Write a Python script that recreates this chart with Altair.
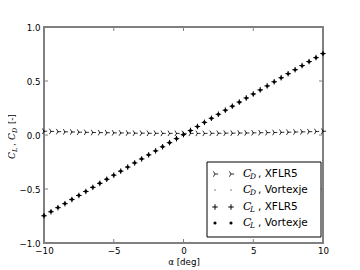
import altair as alt
import pandas as pd

# ---------------- data ----------------
alpha = [-10.0, -9.5, -9.0, -8.5, -8.0, -7.5, -7.0, -6.5, -6.0, -5.5,
         -5.0, -4.5, -4.0, -3.5, -3.0, -2.5, -2.0, -1.5, -1.0, -0.5,
         0.0, 0.5, 1.0, 1.5, 2.0, 2.5, 3.0, 3.5, 4.0, 4.5,
         5.0, 5.5, 6.0, 6.5, 7.0, 7.5, 8.0, 8.5, 9.0, 9.5, 10.0]

cl_xflr5 = [-0.748, -0.711, -0.673, -0.636, -0.598, -0.560, -0.523, -0.485, -0.448, -0.410,
            -0.372, -0.335, -0.297, -0.259, -0.222, -0.184, -0.147, -0.109, -0.071, -0.034,
            0.004, 0.042, 0.079, 0.117, 0.155, 0.192, 0.230, 0.267, 0.305, 0.343,
            0.380, 0.418, 0.455, 0.493, 0.530, 0.568, 0.605, 0.643, 0.680, 0.717, 0.755]

cl_vortexje = [-0.746, -0.709, -0.671, -0.634, -0.596, -0.559, -0.521, -0.484, -0.446, -0.409,
               -0.371, -0.334, -0.296, -0.258, -0.221, -0.183, -0.146, -0.108, -0.071, -0.033,
               0.004, 0.042, 0.079, 0.117, 0.154, 0.192, 0.229, 0.267, 0.304, 0.342,
               0.379, 0.417, 0.454, 0.492, 0.529, 0.567, 0.604, 0.641, 0.679, 0.716, 0.753]

cd_xflr5 = [0.035, 0.033, 0.031, 0.029, 0.028, 0.026, 0.025, 0.023, 0.022, 0.021,
            0.020, 0.019, 0.018, 0.017, 0.017, 0.016, 0.016, 0.015, 0.015, 0.015,
            0.015, 0.015, 0.015, 0.015, 0.016, 0.016, 0.017, 0.017, 0.018, 0.019,
            0.020, 0.021, 0.022, 0.023, 0.025, 0.026, 0.028, 0.029, 0.031, 0.033, 0.035]

cd_vortexje = [0.034, 0.032, 0.030, 0.029, 0.027, 0.026, 0.024, 0.023, 0.022, 0.021,
               0.020, 0.019, 0.018, 0.017, 0.016, 0.016, 0.015, 0.015, 0.015, 0.014,
               0.014, 0.014, 0.015, 0.015, 0.015, 0.016, 0.016, 0.017, 0.018, 0.019,
               0.020, 0.021, 0.022, 0.023, 0.024, 0.026, 0.027, 0.029, 0.030, 0.032, 0.034]

x_ticks = [-10, -5, 0, 5, 10]
y_ticks = [-1.0, -0.5, 0.0, 0.5, 1.0]

legend_sub = ["D", "D", "L", "L"]
legend_src = [", XFLR5", ", Vortexje", ", XFLR5", ", Vortexje"]

# ---------------- styles ----------------
W, H = 279, 216
FRAME = "#808080"
TRI_RIGHT = "M0,0L1,0M0,0L-0.5,-0.866M0,0L-0.5,0.866"
PLUS = "M-1,0L1,0M0,-1L0,1"
SANS = "DejaVu Sans"
MATH = "DejaVu Serif"

xs = alt.Scale(domain=[-10, 10], nice=False, zero=False)
ys = alt.Scale(domain=[-1, 1], nice=False, zero=False)

x_axis = alt.Axis(values=x_ticks, title="α [deg]", domain=False, ticks=False, grid=False,
                  labelExpr="replace(format(datum.value, 'd'), '-', '−')",
                  labelPadding=3, titlePadding=3, labelFlush=False)
y_axis = alt.Axis(values=y_ticks, title=None, domain=False, ticks=False, grid=False,
                  labelExpr="replace(format(datum.value, '.1f'), '-', '−')",
                  labelPadding=4, labelFlush=False)

X = lambda: alt.X("alpha:Q", scale=xs, axis=x_axis)
Y = lambda: alt.Y("v:Q", scale=ys, axis=y_axis)

def series_df(vals):
    return pd.DataFrame({"alpha": alpha, "v": vals})

def enc(ch):
    return ch.encode(x=X(), y=Y())

l_cd_x = enc(alt.Chart(series_df(cd_xflr5)).mark_point(
    shape=TRI_RIGHT, filled=False, size=40, strokeWidth=0.8, color="black", opacity=1))
l_cd_v = enc(alt.Chart(series_df(cd_vortexje)).mark_square(size=1, color="black", opacity=1))
l_cl_x = enc(alt.Chart(series_df(cl_xflr5)).mark_point(
    shape=PLUS, filled=False, size=30, strokeWidth=1, color="black", opacity=1))
l_cl_v = enc(alt.Chart(series_df(cl_vortexje)).mark_circle(size=10, color="black", opacity=1))

# inward ticks on all four sides (same fields / axes as the data layers)
xt = pd.DataFrame({"alpha": x_ticks})
yt = pd.DataFrame({"v": y_ticks})
tick_layers = [
    alt.Chart(xt).mark_rule(color=FRAME, strokeWidth=1).encode(
        x=X(), y=alt.value(H), y2=alt.value(H - 4)),
    alt.Chart(xt).mark_rule(color=FRAME, strokeWidth=1).encode(
        x=X(), y=alt.value(0), y2=alt.value(4)),
    alt.Chart(yt).mark_rule(color=FRAME, strokeWidth=1).encode(
        y=Y(), x=alt.value(0), x2=alt.value(4)),
    alt.Chart(yt).mark_rule(color=FRAME, strokeWidth=1).encode(
        y=Y(), x=alt.value(W), x2=alt.value(W - 4)),
]

one = pd.DataFrame({"k": [0]})

# legend (manual, to keep the math-style labels)
LX0, LX1, LY0, LY1 = 163, 277, 135, 210
row_y = [147, 163, 180, 196]
legend_layers = [
    alt.Chart(one).mark_rect(fill="white", stroke="black", strokeWidth=1).encode(
        x=alt.value(LX0), x2=alt.value(LX1), y=alt.value(LY0), y2=alt.value(LY1))
]
marker_specs = [
    dict(kind="point", shape=TRI_RIGHT, size=40, strokeWidth=0.8),
    dict(kind="square", size=1),
    dict(kind="point", shape=PLUS, size=30, strokeWidth=1),
    dict(kind="circle", size=10),
]
for i, ry in enumerate(row_y):
    spec = marker_specs[i]
    for mx in (171, 187):
        if spec["kind"] == "point":
            m = alt.Chart(one).mark_point(shape=spec["shape"], filled=False, size=spec["size"],
                                          strokeWidth=spec["strokeWidth"], color="black", opacity=1)
        elif spec["kind"] == "square":
            m = alt.Chart(one).mark_square(size=spec["size"], color="black", opacity=1)
        else:
            m = alt.Chart(one).mark_circle(size=spec["size"], color="black", opacity=1)
        legend_layers.append(m.encode(x=alt.value(mx), y=alt.value(ry)))
    legend_layers.append(alt.Chart(one).mark_text(
        text="C", font=MATH, fontStyle="italic", fontSize=11, align="left",
        baseline="middle", color="black").encode(x=alt.value(199), y=alt.value(ry)))
    legend_layers.append(alt.Chart(one).mark_text(
        text=legend_sub[i], font=MATH, fontStyle="italic", fontSize=7.5, align="left",
        baseline="middle", color="black").encode(x=alt.value(206), y=alt.value(ry + 3)))
    legend_layers.append(alt.Chart(one).mark_text(
        text=legend_src[i], font=SANS, fontSize=10.5, align="left",
        baseline="middle", color="black").encode(x=alt.value(214), y=alt.value(ry)))

# y-axis title: C_L , C_D [-]  (rotated, built from pieces)
ylab_pieces = [
    ("C", MATH, "italic", 9, -29, 132),
    ("L", MATH, "italic", 6.5, -27, 125),
    (",", SANS, "normal", 8.5, -29, 119),
    ("C", MATH, "italic", 9, -29, 113),
    ("D", MATH, "italic", 6.5, -27, 106),
    ("[-]", SANS, "normal", 8.5, -29, 97),
]
ylab_layers = []
for txt, fnt, sty, fs, px, py in ylab_pieces:
    ylab_layers.append(alt.Chart(one).mark_text(
        text=txt, font=fnt, fontStyle=sty, fontSize=fs, angle=270, align="left",
        baseline="alphabetic", color="black").encode(x=alt.value(px), y=alt.value(py)))

chart = alt.layer(
    l_cd_x, l_cd_v, l_cl_x, l_cl_v, *tick_layers, *legend_layers, *ylab_layers
).properties(
    width=W, height=H,
    autosize=alt.AutoSizeParams(type="none"),
    padding={"left": 36, "top": 19, "right": 29, "bottom": 25},
).configure_view(
    stroke=FRAME, strokeWidth=2
).configure_axis(
    labelFont=SANS, labelFontSize=8.7, labelColor="black",
    titleFont=SANS, titleFontSize=8.7, titleColor="black", titleFontWeight="normal",
)

chart.save("out.html", embed_options={"renderer": "svg", "actions": False})
